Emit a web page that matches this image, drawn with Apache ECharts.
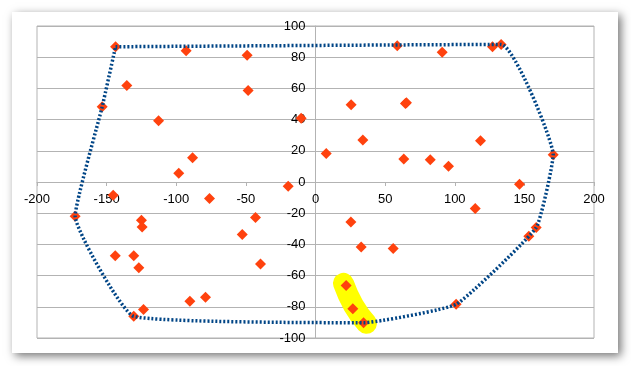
<!DOCTYPE html>
<html>
<head>
<meta charset="utf-8">
<script src="https://cdn.jsdelivr.net/npm/echarts@6/dist/echarts.min.js"></script>
<style>
html,body{margin:0;padding:0;background:#fff;}
#c{width:631px;height:366px;}
</style>
</head>
<body>
<div id="c"></div>
<script>
// Scatter points (x, y)
const pointsX = [-143.6,-92.9,-49.1,-135.5,-153.2,-48.4,-112.7,-10.3,-88.3,-98.2,-19.6,
  58.7,127.1,133.3,91,25.6,64.6,65.3,34,118.5,7.7,63.4,82.4,95.5,170.7,146.5,
  -145.3,-76.1,-172.6,-125,-124.5,-43.1,-52.6,-143.8,-130.5,-126.9,-39.5,-90.2,-79,-123.5,-130.5,
  114.7,25.4,32.8,55.8,153.2,158.5,22,26.8,34.5,101];
const pointsY = [86.7,84.2,81.2,61.9,48.2,58.7,39.2,40.8,15.5,5.6,-2.7,
  87.4,86.7,88.2,83.1,49.5,50.4,50.8,27,26.4,18.3,14.8,14.2,10.1,17.4,-1.4,
  -8.5,-10.6,-21.9,-24.5,-28.8,-22.8,-33.7,-47.2,-47.2,-54.9,-52.6,-76.5,-73.9,-81.8,-86.1,
  -17,-25.6,-41.6,-42.7,-34.8,-29.2,-66.4,-81.2,-90.2,-78.4];
// Hull outline (closed)
const hullX = [-143.6,133.3,170.7,158.5,101,34.5,-130.5,-172.6,-153.2,-143.6];
const hullY = [86.7,88.2,17.4,-29.2,-78.4,-90.2,-86.1,-21.9,48.2,86.7];
// Highlight stroke path
const hlX = [20.1,27.3,36.6];
const hlY = [-65.0,-79.1,-90.6];
// Axis ranges
const xRange = [-200,200,50];
const yRange = [-100,100,20];

const zip = (a,b)=>a.map((v,i)=>[v,b[i]]);
const chart = echarts.init(document.getElementById('c'));
const font = 'Liberation Sans, Arial, sans-serif';
const G = {left:37,right:37,top:26,bottom:28};
const gw = 631-G.left-G.right, gh = 366-G.top-G.bottom;
chart.setOption({
  backgroundColor:'#fff',
  animation:false,
  graphic:[{
    type:'rect', z:-100, silent:true,
    shape:{x:12,y:12,width:606,height:341},
    style:{fill:'#fff',shadowBlur:9,shadowOffsetX:3,shadowOffsetY:3,shadowColor:'rgba(0,0,0,0.55)'}
  }],
  grid:Object.assign({show:true,borderColor:'#b3b3b3',borderWidth:1,backgroundColor:'transparent'},G),
  xAxis:{type:'value',min:xRange[0],max:xRange[1],interval:xRange[2],position:'bottom',
    offset:-gh*(0-yRange[0])/(yRange[1]-yRange[0]),
    axisLine:{onZero:false,lineStyle:{color:'#b3b3b3',width:1}},
    axisTick:{show:true,length:4,lineStyle:{color:'#b3b3b3'}},
    splitLine:{show:false},
    axisLabel:{color:'#000',fontFamily:font,fontSize:13,margin:11}},
  yAxis:{type:'value',min:yRange[0],max:yRange[1],interval:yRange[2],position:'left',
    offset:-gw*(0-xRange[0])/(xRange[1]-xRange[0]),
    axisLine:{onZero:false,lineStyle:{color:'#b3b3b3',width:1}},
    axisTick:{show:false},
    splitLine:{show:true,lineStyle:{color:'#b3b3b3',width:1}},
    axisLabel:{color:'#000',fontFamily:font,fontSize:13,margin:10}},
  series:[
    {type:'line',data:zip(hlX,hlY),symbol:'none',smooth:0.5,z:1,silent:true,
      lineStyle:{color:'#ffff00',width:21,cap:'round',join:'round'}},
    {type:'scatter',data:zip(pointsX,pointsY),symbol:'diamond',symbolSize:[11,11],z:2,
      itemStyle:{color:'#ff420e',opacity:1}},
    {type:'line',data:zip(hullX,hullY),symbol:'none',smooth:0.12,z:3,
      lineStyle:{color:'#004586',width:3.5,type:[2,2],cap:'butt'}}
  ]
});
</script>
</body>
</html>
